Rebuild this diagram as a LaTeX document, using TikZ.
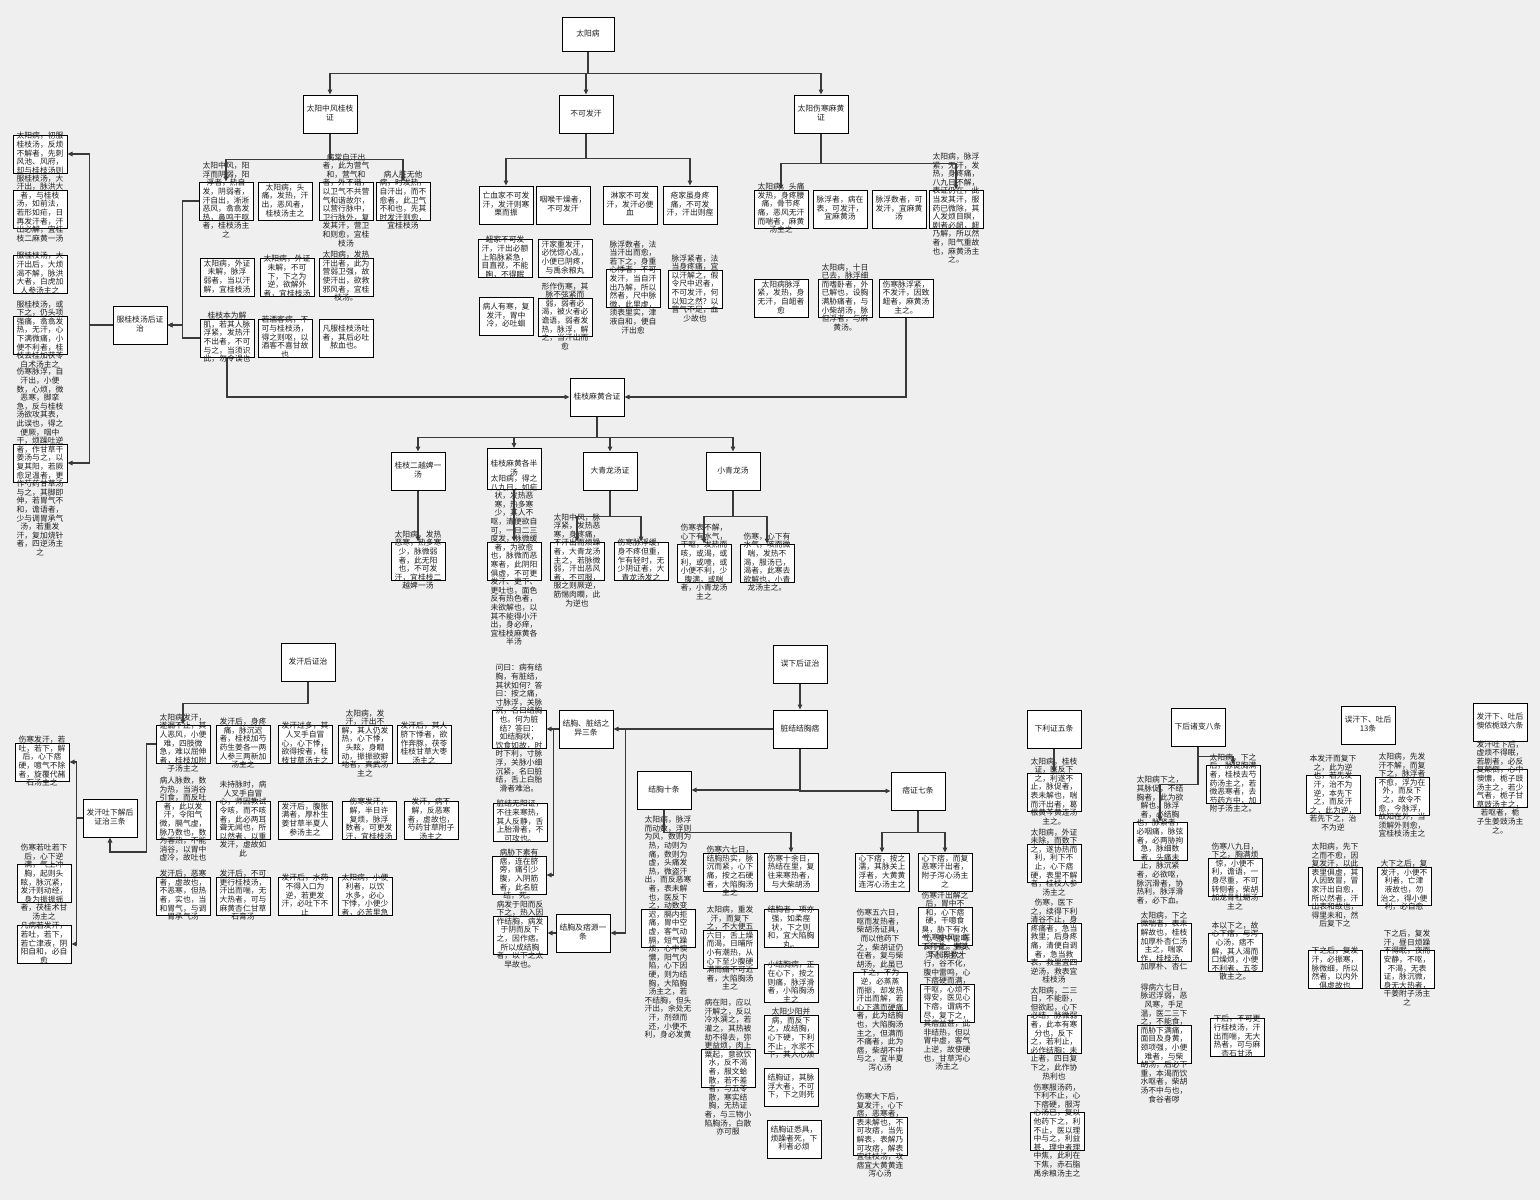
\documentclass[tikz,border=0pt]{standalone}
\usepackage{fontspec}
\setmainfont{Noto Sans CJK SC}
\XeTeXlinebreaklocale "zh"
\XeTeXlinebreakskip = 0pt
\usetikzlibrary{arrows.meta}
\definecolor{bgc}{HTML}{EFEFEF}
\definecolor{edgec}{HTML}{3A3A3A}
\definecolor{txtc}{HTML}{1E1E1E}
\pgfdeclarelayer{back}
\pgfdeclarelayer{boxes}
\pgfsetlayers{back,boxes,main}
\newcount\pn
\def\psspec{}
\pn=0
\loop\ifnum\pn<40
  \edef\psspec{\psspec\space 0pt \the\dimexpr 54.5pt-0.18pt*\pn\relax}%
  \advance\pn by 1
\repeat
\newbox\cbox \newbox\lbox \newbox\obox \newbox\tbox
\newcommand{\ctext}[1]{%
  \setbox\cbox=\vbox{\hsize=54.5pt\parindent=0pt\leftskip=0pt\rightskip=0pt plus 12pt\parfillskip=0pt plus 1fil\pretolerance=-1\tolerance=9999\hbadness=10000\parshape 40 \psspec\relax #1\par}%
  \global\setbox\obox=\vbox{}%
  \setbox\cbox=\vbox{\unvbox\cbox
    \loop\unskip\unpenalty\unskip\setbox\lbox=\lastbox\unless\ifvoid\lbox
      \setbox\tbox=\hbox to 49pt{\hss\unhbox\lbox\unskip\unpenalty\unskip\unpenalty\unskip\hss}%
      \ht\tbox=6.4pt \dp\tbox=2.2pt
      \global\setbox\obox=\vbox{\offinterlineskip\box\tbox\unvbox\obox}%
    \repeat}%
  \box\obox}
\tikzset{
  box/.style={draw=black, line width=1pt, fill=white, minimum width=54pt, minimum height=38pt, inner sep=0pt},
  txt/.style={inner sep=0pt, text=txtc, font=\fontsize{7.8}{8.6}\selectfont},
  edge/.style={draw=edgec, line width=1.1pt, -{Triangle[length=5pt,width=4.5pt]}}
}
\newcommand{\lf}[5][]{%
  \begin{pgfonlayer}{boxes}\node[box,#1] (#2) at (#3,#4) {};\end{pgfonlayer}
  \node[txt] at (#2.center) {\ctext{#5}};}
\begin{document}
\begin{tikzpicture}[x=1pt,y=-1pt]
\begin{pgfonlayer}{back}
\fill[bgc] (0,0) rectangle (1540,1200);
\end{pgfonlayer}
\useasboundingbox (0,0) rectangle (1540,1200);

% ---------- top level ----------
\lf[minimum width=52pt,minimum height=34pt]{root}{588}{34}{太阳病}
\lf{zf}{330}{114}{太阳中风桂枝证}
\lf{bk}{586}{114}{不可发汗}
\lf{mh}{821}{114}{太阳伤寒麻黄证}

% ---------- 太阳中风桂枝证 ----------
\lf{A}{226}{201}{太阳中风，阳浮而阴弱，阳浮者，热自发，阴弱者，汗自出，淅淅恶风，翕翕发热，鼻鸣干呕者，桂枝汤主之}
\lf{B}{285}{201}{太阳病，头痛，发热，汗出，恶风者，桂枝汤主之}
\lf{C}{346}{201}{病常自汗出者，此为营气和，营气和者，外不谐，以卫气不共营气和谐故尔，以营行脉中，卫行脉外，复发其汗，营卫和则愈，宜桂枝汤}
\lf{D}{403}{201}{病人脏无他病，时发热，自汗出，而不愈者，此卫气不和也，先其时发汗则愈，宜桂枝汤}
\lf{E}{227}{277}{太阳病，外证未解，脉浮弱者，当以汗解，宜桂枝汤}
\lf{F}{287}{277}{太阳病，外证未解，不可下，下之为逆，欲解外者，宜桂枝汤}
\lf{G}{346}{277}{太阳病，发热汗出者，此为营弱卫强，故使汗出，欲救邪风者，宜桂枝汤。}
\lf{H}{227}{338}{桂枝本为解肌，若其人脉浮紧，发热汗不出者，不可与之，当须识此，勿令误也}
\lf{I}{285}{338}{若酒客病，不可与桂枝汤，得之则呕，以酒客不喜甘故也}
\lf{J}{346}{338}{凡服桂枝汤吐者，其后必吐脓血也。}

\lf{fh}{140}{325}{服桂枝汤后证治}
\lf{L1}{40}{154}{太阳病，初服桂枝汤，反烦不解者，先刺风池、风府，却与桂枝汤则}
\lf{L2}{40}{209}{服桂枝汤，大汗出，脉洪大者，与桂枝汤，如前法，若形如疟，日再发汗者，汗出必解，宜桂枝二麻黄一汤}
\lf{L3}{40}{274}{服桂枝汤，大汗出后，大烦渴不解，脉洪大者，白虎加人参汤主之}
\lf{L4}{40}{335}{服桂枝汤，或下之，仍头项强痛，翕翕发热，无汗，心下满微痛，小便不利者，桂枝去桂加茯苓白术汤主之}
\lf{L5}{40}{463}{伤寒脉浮，自汗出，小便数，心烦，微恶寒，脚挛急，反与桂枝汤欲攻其表，此误也，得之便厥，咽中干，烦躁吐逆者，作甘草干姜汤与之，以复其阳，若厥愈足温者，更作芍药甘草汤与之，其脚即伸，若胃气不和，谵语者，少与调胃承气汤，若重发汗，复加烧针者，四逆汤主之}

% ---------- 不可发汗 ----------
\lf{K1}{506}{205}{亡血家不可发汗，发汗则寒栗而振}
\lf{K2}{563}{205}{咽喉干燥者，不可发汗}
\lf{K3}{630}{205}{淋家不可发汗，发汗必便血}
\lf{K4}{690}{205}{疮家虽身疼痛，不可发汗，汗出则痓}
\lf{K5}{505}{258}{衄家不可发汗，汗出必额上陷脉紧急，目直视，不能眴，不得眠}
\lf{K6}{565}{258}{汗家重发汗，必恍惚心乱，小便已阴疼，与禹余粮丸}
\lf{K7}{633}{288}{脉浮数者，法当汗出而愈，若下之，身重心悸者，不可发汗，当自汗出乃解，所以然者，尺中脉微，此里虚，须表里实，津液自和，便自汗出愈}
\lf{K8}{695}{289}{脉浮紧者，法当身疼痛，宜以汗解之，假令尺中迟者，不可发汗，何以知之然？以营气不足，血少故也}
\lf{K9}{506}{316}{病人有寒，复发汗，胃中冷，必吐蛔}
\lf{K10}{565}{317}{形作伤寒，其脉不弦紧而弱，弱者必渴，被火者必谵语，弱者发热，脉浮，解之，当汗出而愈}

% ---------- 太阳伤寒麻黄证 ----------
\lf{M1}{781}{209}{太阳病，头痛发热，身疼腰痛，骨节疼痛，恶风无汗而喘者，麻黄汤主之}
\lf{M2}{840}{209}{脉浮者，病在表，可发汗，宜麻黄汤}
\lf{M3}{899}{209}{脉浮数者，可发汗，宜麻黄汤}
\lf{M4}{956}{209}{太阳病，脉浮紧，无汗，发热，身疼痛，八九日不解，表证仍在，此当发其汗，服药已微除，其人发烦目瞑，剧者必衄，衄乃解，所以然者，阳气重故也，麻黄汤主之。}
\lf{M5}{781}{298}{太阳病脉浮紧，发热，身无汗，自衄者愈}
\lf{M6}{845}{298}{太阳病，十日已去，脉浮细而嗜卧者，外已解也，设胸满胁痛者，与小柴胡汤，脉但浮者，与麻黄汤。}
\lf{M7}{906}{298}{伤寒脉浮紧，不发汗，因致衄者，麻黄汤主之。}

% ---------- 桂枝麻黄合证 ----------
\lf{gm}{597}{397}{桂枝麻黄合证}
\lf{P1}{418}{471}{桂枝二越婢一汤}
\lf[minimum height=41pt]{P2}{514}{469}{桂枝麻黄各半汤}
\lf{P3}{610}{471}{大青龙汤证}
\lf{P4}{733}{471}{小青龙汤}
\lf{Q1}{418}{561}{太阳病，发热恶寒，热多寒少，脉微弱者，此无阳也，不可发汗，宜桂枝二越婢一汤}
\lf{Q2}{514}{561}{太阳病，得之八九日，如疟状，发热恶寒，热多寒少，其人不呕，清便欲自可，一日二三度发，脉微缓者，为欲愈也，脉微而恶寒者，此阴阳俱虚，不可更发汗、更下、更吐也，面色反有热色者，未欲解也，以其不能得小汗出，身必痒，宜桂枝麻黄各半汤}
\lf{Q3}{577}{561}{太阳中风，脉浮紧，发热恶寒，身疼痛，不汗出而烦躁者，大青龙汤主之，若脉微弱，汗出恶风者，不可服，服之则厥逆，筋惕肉瞤，此为逆也}
\lf{Q4}{641}{561}{伤寒脉浮缓，身不疼但重，乍有轻时，无少阴证者，大青龙汤发之}
\lf{Q5}{704}{563}{伤寒表不解，心下有水气，干呕，发热而咳，或渴，或利，或噎，或小便不利，少腹满，或喘者，小青龙汤主之}
\lf{Q6}{767}{563}{伤寒，心下有水气，咳而微喘，发热不渴，服汤已，渴者，此寒去欲解也，小青龙汤主之。}

% ---------- 发汗后证治 ----------
\lf{fhz}{308}{662}{发汗后证治}
\lf{R1}{183}{744}{太阳病发汗，遂漏不止，其人恶风，小便难，四肢微急，难以屈伸者，桂枝加附子汤主之}
\lf{R2}{243}{744}{发汗后，身疼痛，脉沉迟者，桂枝加芍药生姜各一两人参三两新加汤主之}
\lf{R3}{305}{744}{发汗过多，其人叉手自冒心，心下悸，欲得按者，桂枝甘草汤主之}
\lf{R4}{365}{744}{太阳病，发汗，汗出不解，其人仍发热，心下悸，头眩，身瞤动，振振欲擗地者，真武汤主之}
\lf{R5}{424}{744}{发汗后，其人脐下悸者，欲作奔豚，茯苓桂枝甘草大枣汤主之}
\lf{R6}{183}{820}{病人脉数，数为热，当消谷引食，而反吐者，此以发汗，令阳气微，膈气虚，脉乃数也，数为客热，不能消谷，以胃中虚冷，故吐也}
\lf{R7}{243}{820}{未持脉时，病人叉手自冒心，师因教试令咳，而不咳者，此必两耳聋无闻也，所以然者，以重发汗，虚故如此}
\lf{R8}{305}{820}{发汗后，腹胀满者，厚朴生姜甘草半夏人参汤主之}
\lf{R9}{369}{820}{伤寒发汗，解，半日许复烦，脉浮数者，可更发汗，宜桂枝汤}
\lf{R10}{431}{820}{发汗，病不解，反恶寒者，虚故也，芍药甘草附子汤主之}
\lf{R11}{183}{896}{发汗后，恶寒者，虚故也，不恶寒，但热者，实也，当和胃气，与调胃承气汤}
\lf{R12}{243}{896}{发汗后，不可更行桂枝汤，汗出而喘，无大热者，可与麻黄杏仁甘草石膏汤}
\lf{R13}{305}{896}{发汗后，水药不得入口为逆，若更发汗，必吐下不止}
\lf{R14}{365}{896}{太阳病，小便利者，以饮水多，必心下悸，小便少者，必苦里急}
\lf{tx}{110}{818}{发汗吐下解后证治三条}
\lf{S1}{42}{762}{伤寒发汗，若吐，若下，解后，心下痞硬，噫气不除者，旋覆代赭石汤主之}
\lf{S2}{44}{883}{伤寒若吐若下后，心下逆满，气上冲胸，起则头眩，脉沉紧，发汗则动经，身为振振摇者，茯桂术甘汤主之}
\lf{S3}{44}{944}{凡病若发汗，若吐，若下，若亡津液，阴阳自和，必自愈}

% ---------- 误下后证治 ----------
\lf{wx}{800}{664}{误下后证治}
\lf{zj}{800}{729}{脏结结胸痞}
\lf{jy}{586}{729}{结胸、脏结之异三条}
\lf{jp}{583}{933}{结胸及痞源一条}
\lf{T1}{519}{729}{问曰：病有结胸，有脏结，其状如何？答曰：按之痛，寸脉浮，关脉沉，名曰结胸也。何为脏结？答曰：如结胸状，饮食如故，时时下利，寸脉浮，关脉小细沉紧，名曰脏结，舌上白胎滑者难治。}
\lf{T2}{520}{822}{脏结无阳证，不往来寒热，其人反静，舌上胎滑者，不可攻也。}
\lf{T3}{519}{875}{病胁下素有痞，连在脐旁，痛引少腹，入阴筋者，此名脏结，死。}
\lf{T4}{520}{935}{病发于阳而反下之，热入因作结胸，病发于阴而反下之，因作痞。所以成结胸者，以下之太早故也。}
\lf{jx}{664}{790}{结胸十条}
\lf{pz}{918}{791}{痞证七条}
\lf{V1}{668}{928}{太阳病，脉浮而动数，浮则为风，数则为热，动则为痛，数则为虚，头痛发热，微盗汗出，而反恶寒者，表未解也，医反下之，动数变迟，膈内拒痛，胃中空虚，客气动膈，短气躁烦，心中懊憹，阳气内陷，心下因硬，则为结胸，大陷胸汤主之，若不结胸，但头汗出，余处无汗，剂颈而还，小便不利，身必发黄}
\lf{V2}{730}{872}{伤寒六七日，结胸热实，脉沉而紧，心下痛，按之石硬者，大陷胸汤主之}
\lf{V3}{791}{872}{伤寒十余日，热结在里，复往来寒热者，与大柴胡汤}
\lf{V4}{730}{949}{太阳病，重发汗，而复下之，不大便五六日，舌上燥而渴，日晡所小有潮热，从心下至少腹硬满而痛不可近者，大陷胸汤主之}
\lf{V5}{791}{928}{结胸者，项亦强，如柔痓状，下之则和，宜大陷胸丸。}
\lf{V6}{791}{983}{小结胸病，正在心下，按之则痛，脉浮滑者，小陷胸汤主之}
\lf{V7}{728}{1068}{病在阳，应以汗解之，反以冷水潠之，若灌之，其热被劫不得去，弥更益烦，肉上粟起，意欲饮水，反不渴者，服文蛤散，若不差者，与五苓散，寒实结胸，无热证者，与三物小陷胸汤，白散亦可服}
\lf{V8}{791}{1034}{太阳少阳并病，而反下之，成结胸，心下硬，下利不止，水浆不下，其人心烦}
\lf{V9}{791}{1087}{结胸证，其脉浮大者，不可下，下之则死}
\lf{V10}{794}{1139}{结胸证悉具，烦躁者死，下利者必烦}
\lf{W1}{882}{872}{心下痞，按之濡，其脉关上浮者，大黄黄连泻心汤主之}
\lf{W2}{945}{872}{心下痞，而复恶寒汗出者，附子泻心汤主之}
\lf{W3}{880}{991}{伤寒五六日，呕而发热者，柴胡汤证具，而以他药下之，柴胡证仍在者，复与柴胡汤，此虽已下之，不为逆，必蒸蒸而振，却发热汗出而解，若心下满而硬痛者，此为结胸也，大陷胸汤主之，但满而不痛者，此为痞，柴胡不中与之，宜半夏泻心汤}
\lf{W4}{945}{926}{伤寒汗出解之后，胃中不和，心下痞硬，干噫食臭，胁下有水气，腹中雷鸣下利者，生姜泻心汤主之}
\lf{W5}{947}{1003}{伤寒中风，医反下之，其人下利日数十行，谷不化，腹中雷鸣，心下痞硬而满，干呕，心烦不得安，医见心下痞，谓病不尽，复下之，其痞益甚，此非结热，但以胃中虚，客气上逆，故使硬也，甘草泻心汤主之}
\lf{W6}{880}{1136}{伤寒大下后，复发汗，心下痞，恶寒者，表未解也，不可攻痞，当先解表，表解乃可攻痞，解表宜桂枝汤，攻痞宜大黄黄连泻心汤}

% ---------- 下利证五条 ----------
\lf{xl}{1054}{729}{下利证五条}
\lf{X1}{1054}{792}{太阳病，桂枝证，医反下之，利遂不止，脉促者，表未解也，喘而汗出者，葛根黄芩黄连汤主之。}
\lf{X2}{1054}{863}{太阳病，外证未除，而数下之，遂协热而利，利下不止，心下痞硬，表里不解者，桂枝人参汤主之}
\lf{X3}{1054}{942}{伤寒，医下之，续得下利清谷不止，身疼痛者，急当救里；后身疼痛，清便自调者，急当救表，救里宜四逆汤，救表宜桂枝汤}
\lf{X4}{1054}{1034}{太阳病，二三日，不能卧，但欲起，心下必结，脉微弱者，此本有寒分也，反下之，若利止，必作结胸；未止者，四日复下之，此作协热利也}
\lf{X5}{1057}{1131}{伤寒服汤药，下利不止，心下痞硬，服泻心汤已，复以他药下之，利不止，医以理中与之，利益甚，理中者理中焦，此利在下焦，赤石脂禹余粮汤主之}

% ---------- 下后诸变八条 ----------
\lf{xh}{1198}{727}{下后诸变八条}
\lf{Y1}{1160}{841}{太阳病下之，其脉促，不结胸者，此为欲解也，脉浮者，必结胸也，脉紧者，必咽痛，脉弦者，必两胁拘急，脉细数者，头痛未止，脉沉紧者，必欲呕，脉沉滑者，协热利，脉浮滑者，必下血。}
\lf{Y2}{1233}{784}{太阳病，下之后，脉促胸满者，桂枝去芍药汤主之，若微恶寒者，去芍药方中，加附子汤主之。}
\lf{Y3}{1164}{942}{太阳病，下之微喘者，表未解故也，桂枝加厚朴杏仁汤主之，喘家作，桂枝汤，加厚朴、杏仁}
\lf{Y4}{1235}{877}{伤寒八九日，下之，胸满烦惊，小便不利，谵语，一身尽重，不可转侧者，柴胡加龙骨牡蛎汤主之}
\lf{Y5}{1235}{952}{本以下之，故心下痞，与泻心汤，痞不解，其人渴而口燥烦，小便不利者，五苓散主之。}
\lf{Y6}{1164}{1044}{得病六七日，脉迟浮弱，恶风寒，手足温，医二三下之，不能食，而胁下满痛，面目及身黄，颈项强，小便难者，与柴胡汤，后必下重，本渴而饮水呕者，柴胡汤不中与也，食谷者哕}
\lf{Y7}{1237}{1037}{下后，不可更行桂枝汤，汗出而喘，无大热者，可与麻杏石甘汤}

% ---------- 误汗下、吐后13条 ----------
\lf{wh}{1368}{725}{误汗下、吐后13条}
\lf{Z1}{1333}{794}{本发汗而复下之，此为逆也，若先发汗，治不为逆，本先下之，而反汗之，此为逆，若先下之，治不为逆}
\lf{Z2}{1402}{796}{太阳病，先发汗不解，而复下之，脉浮者不愈，浮为在外，而反下之，故令不愈，今脉浮，故知在外，当须解外则愈，宜桂枝汤主之}
\lf{Z3}{1335}{886}{太阳病，先下之而不愈，因复发汗，以此表里俱虚，其人因致冒，冒家汗出自愈，所以然者，汗出表和故也，得里未和，然后复下之}
\lf{Z4}{1404}{886}{大下之后，复发汗，小便不利者，亡津液故也，勿治之，得小便利，必自愈}
\lf{Z5}{1335}{969}{下之后，复发汗，必振寒，脉微细，所以然者，以内外俱虚故也}
\lf{Z6}{1407}{969}{下之后，复发汗，昼日烦躁不得眠，夜而安静，不呕，不渴，无表证，脉沉微，身无大热者，干姜附子汤主之}

% ---------- 懊侬栀豉六条 ----------
\lf{zc}{1500}{722}{发汗下、吐后懊侬栀豉六条}
\lf{AA1}{1500}{788}{发汗吐下后，虚烦不得眠，若剧者，必反复颠倒，心中懊憹，栀子豉汤主之，若少气者，栀子甘草豉汤主之，若呕者，栀子生姜豉汤主之。}

% ================= connectors =================
\draw[edge] (root.south) -- ++(0,22) -| (zf.north);
\draw[edge] (root.south) -- ++(0,22) -| (bk.north);
\draw[edge] (root.south) -- ++(0,22) -| (mh.north);

\draw[edge] (zf.south) -- ++(0,26) -| (A.north);
\draw[edge] (zf.south) -- ++(0,26) -| (D.north);
\draw[edge] (A.west) -- ++(-16,0) |- (fh.east);
\draw[edge] (H.west) -- ++(-17,0) |- (fh.east);
\draw[edge] (fh.west) -- ++(-23,0) |- (L1.east);
\draw[edge] (fh.west) -- ++(-23,0) |- (L5.east);
\draw[edge] (H.south) |- (gm.west);

\draw[edge] (bk.south) -- ++(0,25) -| (K1.north);
\draw[edge] (bk.south) -- ++(0,25) -| (K4.north);

\draw[edge] (mh.south) -- ++(0,30) -| (M1.north);
\draw[edge] (mh.south) -- ++(0,30) -| (M4.north);
\draw[edge] (M7.south) |- (gm.east);

\draw[edge] (gm.south) -- ++(0,21) -| (P1.north);
\draw[edge] (gm.south) -- ++(0,21) -| (P2.north);
\draw[edge] (gm.south) -- ++(0,21) -| (P3.north);
\draw[edge] (gm.south) -- ++(0,21) -| (P4.north);
\draw[edge] (P1.south) -- (Q1.north);
\draw[edge] (P2.south) -- (Q2.north);
\draw[edge] (P3.south) -- ++(0,26) -| (Q3.north);
\draw[edge] (P3.south) -- ++(0,26) -| (Q4.north);
\draw[edge] (P4.south) -- ++(0,26) -| (Q5.north);
\draw[edge] (P4.south) -- ++(0,26) -| (Q6.north);

\draw[edge] (fhz.south) -- ++(0,22) -| (R1.north);
\draw[edge] (R1.west) -- ++(-9,0) -- ++(0,108) -| (tx.south);
\draw[edge] (tx.west) -- ++(-6,0) |- (S1.east);
\draw[edge] (tx.west) -- ++(-6,0) |- (S3.east);

\draw[edge] (wx.south) -- (zj.north);
\draw[edge] (zj.west) -- (jy.east);
\draw[edge] (zj.west) -- ++(-147,0) |- (jp.east);
\draw[edge] (jy.west) -- (T1.east);
\draw[edge] (jy.west) -- ++(-5,0) |- (T3.east);
\draw[edge] (jp.west) -- (T4.east |- jp.west);
\draw[edge] (zj.south) |- (jx.east);
\draw[edge] (zj.south) |- (pz.west);
\draw[edge] (jx.south) -- ++(0,23) -| (V3.north);
\draw[edge] (pz.south) -- ++(0,22) -| (W1.north);
\draw[edge] (pz.south) -- ++(0,22) -| (W2.north);

\draw[edge] (xl.south) -- (X1.north);
\draw[edge] (xh.south) -- ++(0,10) -| (Y2.north);
\draw[edge] (xh.south) -- ++(0,38) -| (Y1.north);
\end{tikzpicture}
\end{document}
